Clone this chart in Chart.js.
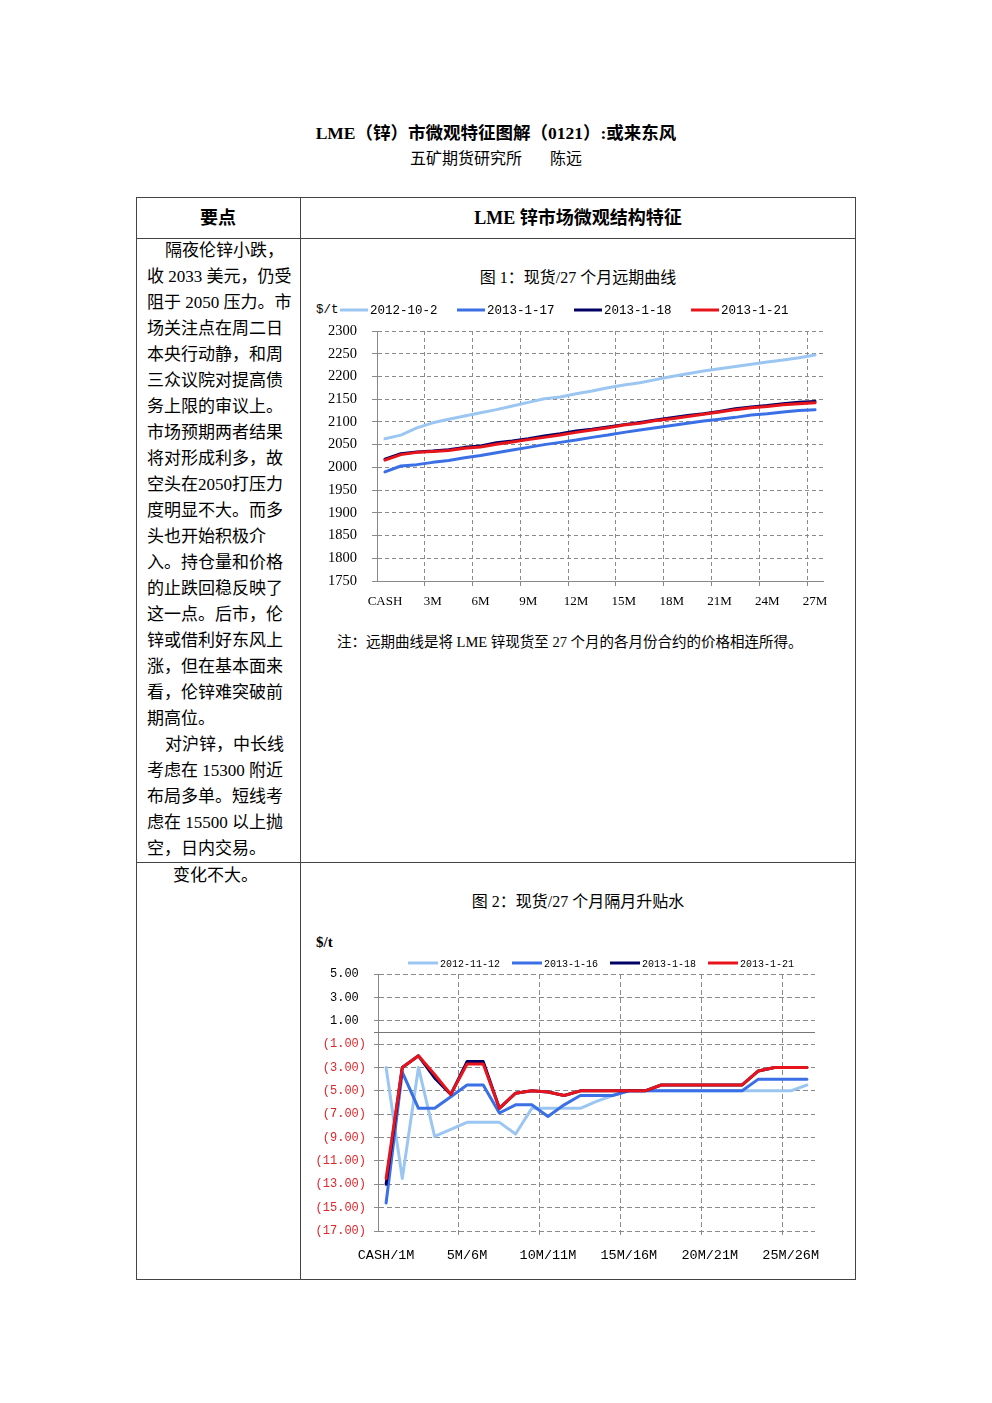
<!DOCTYPE html>
<html lang="zh-CN">
<head>
<meta charset="utf-8">
<title>LME（锌）市微观特征图解（0121）</title>
<script src="https://cdn.jsdelivr.net/npm/chart.js@4.4.1/dist/chart.umd.min.js"></script>
<style>
  html, body { margin: 0; padding: 0; background: #fff; }
  body { width: 992px; height: 1403px; position: relative; color: #000;
         font-family: "Liberation Serif", "Noto Sans CJK SC", serif; }
  .abs { position: absolute; }
  .center { text-align: center; white-space: nowrap; }
  .title { left: 0; width: 992px; top: 121px; line-height: 24px; font-size: 17.5px; font-weight: bold; }
  .sub { left: 0; width: 992px; top: 147px; line-height: 24px; font-size: 16px; }
  .box { left: 136px; top: 197px; width: 718px; height: 1081px; border: 1px solid #444; }
  .vline { left: 300px; top: 197px; width: 1px; height: 1083px; background: #444; }
  .hline { left: 136px; width: 720px; height: 1px; background: #444; }
  .head { top: 198px; line-height: 40px; font-size: 18px; font-weight: bold; }
  .points { left: 147px; top: 238px; font-size: 17px; line-height: 26px; white-space: nowrap; }
  .points .ind { padding-left: 18px; }
  .cap { left: 300px; width: 556px; font-size: 16px; line-height: 24px; }
  .note { left: 337px; top: 630px; font-size: 14.5px; line-height: 24px; white-space: nowrap; }
  .unit1 { left: 316px; top: 302px; font: 12.5px "Liberation Mono", monospace; line-height: 16px; }
  .unit2 { left: 316px; top: 932px; font-size: 15px; font-weight: bold; line-height: 20px; }
  canvas { position: absolute; }
</style>
</head>
<body>
<div class="abs center title">LME（锌）市微观特征图解（0121）:或来东风</div>
<div class="abs center sub">五矿期货研究所<span style="margin-left:28px">陈远</span></div>

<div class="abs box"></div>
<div class="abs vline"></div>
<div class="abs hline" style="top:238px"></div>
<div class="abs hline" style="top:862px"></div>

<div class="abs center head" style="left:136px;width:164px">要点</div>
<div class="abs center head" style="left:300px;width:556px">LME 锌市场微观结构特征</div>

<div class="abs points">
  <div class="ind">隔夜伦锌小跌，</div>
  <div>收 2033 美元，仍受</div>
  <div>阻于 2050 压力。市</div>
  <div>场关注点在周二日</div>
  <div>本央行动静，和周</div>
  <div>三众议院对提高债</div>
  <div>务上限的审议上。</div>
  <div>市场预期两者结果</div>
  <div>将对形成利多，故</div>
  <div>空头在2050打压力</div>
  <div>度明显不大。而多</div>
  <div>头也开始积极介</div>
  <div>入。持仓量和价格</div>
  <div>的止跌回稳反映了</div>
  <div>这一点。后市，伦</div>
  <div>锌或借利好东风上</div>
  <div>涨，但在基本面来</div>
  <div>看，伦锌难突破前</div>
  <div>期高位。</div>
  <div class="ind">对沪锌，中长线</div>
  <div>考虑在 15300 附近</div>
  <div>布局多单。短线考</div>
  <div>虑在 15500 以上抛</div>
  <div>空，日内交易。</div>
</div>
<div class="abs points" style="left:173px;top:863px">变化不大。</div>

<div class="abs center cap" style="top:266px">图 1：现货/27 个月远期曲线</div>
<div class="abs unit1">$/t</div>
<canvas id="fwdChart" width="540" height="330" style="left:305px;top:290px"></canvas>
<div class="abs note">注：远期曲线是将 LME 锌现货至 27 个月的各月份合约的价格相连所得。</div>

<div class="abs center cap" style="top:890px">图 2：现货/27 个月隔月升贴水</div>
<div class="abs unit2">$/t</div>
<canvas id="sprChart" width="530" height="330" style="left:305px;top:945px"></canvas>

<script>
// Figure 1: forward curve, USD/t
const fwdLabels = ["CASH", "1M", "2M", "3M", "4M", "5M", "6M", "7M", "8M", "9M",
  "10M", "11M", "12M", "13M", "14M", "15M", "16M", "17M", "18M", "19M",
  "20M", "21M", "22M", "23M", "24M", "25M", "26M", "27M"];
const fwd_20121002 = [2063, 2071, 2087, 2098, 2106, 2113, 2120, 2127, 2135, 2143,
  2151, 2155, 2162, 2168, 2175, 2181, 2186, 2193, 2200, 2206,
  2212, 2217, 2222, 2227, 2232, 2236, 2241, 2247];
const fwd_20130117 = [1990, 2003, 2006, 2011, 2015, 2021, 2026, 2032, 2038, 2044,
  2050, 2055, 2060, 2066, 2071, 2077, 2082, 2087, 2092, 2097,
  2102, 2106, 2110, 2115, 2118, 2122, 2125, 2127];
const fwd_20130118 = [2018, 2030, 2034, 2036, 2039, 2044, 2047, 2054, 2058, 2063,
  2069, 2074, 2080, 2084, 2089, 2094, 2099, 2104, 2109, 2114,
  2118, 2123, 2129, 2133, 2136, 2140, 2143, 2145];
const fwd_20130121 = [2016, 2028, 2033, 2035, 2037, 2042, 2045, 2051, 2056, 2061,
  2066, 2071, 2077, 2082, 2087, 2093, 2097, 2103, 2107, 2112,
  2117, 2122, 2127, 2131, 2134, 2138, 2140, 2142];
const fwdAxis = [1750, 2300, 50];

// Figure 2: month-to-month spreads, USD/t
const sprLabels = ["CASH/1M", "1M/2M", "2M/3M", "3M/4M", "4M/5M", "5M/6M", "6M/7M",
  "7M/8M", "8M/9M", "9M/10M", "10M/11M", "11M/12M", "12M/13M", "13M/14M",
  "14M/15M", "15M/16M", "16M/17M", "17M/18M", "18M/19M", "19M/20M",
  "20M/21M", "21M/22M", "22M/23M", "23M/24M", "24M/25M", "25M/26M", "26M/27M"];
const spr_20121112 = [-3.0, -12.5, -3.0, -8.9, -8.3, -7.7, -7.7, -7.7, -8.7, -6.5,
  -6.5, -6.5, -6.5, -5.9, -5.4, -5.0, -5.0, -5.0, -5.0, -5.0,
  -5.0, -5.0, -5.0, -5.0, -5.0, -5.0, -4.5];
const spr_20130116 = [-14.6, -3.4, -6.5, -6.5, -5.5, -4.5, -4.5, -6.9, -6.2, -6.2,
  -7.2, -6.2, -5.4, -5.4, -5.4, -5.0, -5.0, -5.0, -5.0, -5.0,
  -5.0, -5.0, -5.0, -4.0, -4.0, -4.0, -4.0];
const spr_20130118 = [-13.0, -3.0, -2.0, -3.9, -5.3, -2.5, -2.5, -6.5, -5.2, -5.0,
  -5.1, -5.4, -5.0, -5.0, -5.0, -5.0, -5.0, -4.5, -4.5, -4.5,
  -4.5, -4.5, -4.5, -3.3, -3.0, -3.0, -3.0];
const spr_20130121 = [-12.5, -3.0, -2.0, -3.6, -5.3, -2.7, -2.7, -6.5, -5.2, -5.0,
  -5.1, -5.4, -5.0, -5.0, -5.0, -5.0, -5.0, -4.5, -4.5, -4.5,
  -4.5, -4.5, -4.5, -3.3, -3.0, -3.0, -3.0];
const sprAxis = [-17, 5, 2];

const C_LIGHT = "#9cc6f2", C_MID = "#3a6fe6", C_DARK = "#000066", C_RED = "#e8141c";
const GRID = "#8a8a8a";

Chart.defaults.animation = false;
Chart.defaults.devicePixelRatio = 1;

// legend drawn as line sample + label, laid out left to right
const lineLegend = {
  id: "lineLegend",
  afterDraw(chart, args, opts) {
    const ctx = chart.ctx;
    ctx.save();
    ctx.font = opts.font;
    ctx.textBaseline = "middle";
    let x = opts.x;
    chart.data.datasets.forEach(ds => {
      ctx.strokeStyle = ds.borderColor;
      ctx.lineWidth = 3;
      ctx.beginPath();
      ctx.moveTo(x, opts.y);
      ctx.lineTo(x + opts.lineLen, opts.y);
      ctx.stroke();
      x += opts.lineLen + 2;
      ctx.fillStyle = "#000";
      ctx.fillText(ds.label, x, opts.y + 1);
      x += ctx.measureText(ds.label).width + opts.gap;
    });
    ctx.restore();
  }
};

// solid horizontal axis at zero
const zeroLine = {
  id: "zeroLine",
  beforeDatasetsDraw(chart) {
    const ctx = chart.ctx;
    const y = Math.round(chart.scales.y.getPixelForValue(0)) + 0.5;
    const a = chart.chartArea;
    ctx.save();
    ctx.strokeStyle = "#777";
    ctx.lineWidth = 1;
    ctx.beginPath();
    ctx.moveTo(a.left - 4, y);
    ctx.lineTo(a.right, y);
    ctx.stroke();
    ctx.restore();
  }
};

function series(label, data, color, order) {
  return {
    label, data, order,
    borderColor: color,
    backgroundColor: color,
    borderWidth: 3,
    pointRadius: 0,
    tension: 0,
    borderJoinStyle: "round",
    borderCapStyle: "round"
  };
}

new Chart(document.getElementById("fwdChart"), {
  type: "line",
  data: {
    labels: fwdLabels,
    datasets: [
      series("2012-10-2", fwd_20121002, C_LIGHT, 3),
      series("2013-1-17", fwd_20130117, C_MID, 2),
      series("2013-1-18", fwd_20130118, C_DARK, 1),
      series("2013-1-21", fwd_20130121, C_RED, 0)
    ]
  },
  plugins: [lineLegend],
  options: {
    responsive: false,
    layout: { padding: { top: 41, right: 22, bottom: 0, left: 0 } },
    plugins: {
      legend: { display: false },
      tooltip: { enabled: false },
      lineLegend: { x: 35, y: 20, lineLen: 28, gap: 19.5, font: "12.5px 'Liberation Mono', monospace" }
    },
    scales: {
      x: {
        offset: true,
        grid: {
          offset: true,
          tickLength: 5,
          color: c => (c.index > 0 && c.index % 3 === 0) ? GRID : "rgba(0,0,0,0)"
        },
        border: { display: true, color: "#888", dash: [4, 3] },
        ticks: {
          autoSkip: false, maxRotation: 0, minRotation: 0, padding: 8, color: "#000",
          font: { family: "'Liberation Serif', serif", size: 13 },
          callback: (v, i) => i % 3 === 0 ? fwdLabels[i] : ""
        },
        afterFit: s => { s.height = 39; }
      },
      y: {
        min: fwdAxis[0], max: fwdAxis[1],
        grid: { color: GRID, tickLength: 5 },
        border: { display: true, color: "#888", dash: [4, 3] },
        ticks: {
          stepSize: fwdAxis[2], padding: 15, color: "#000",
          font: { family: "'Liberation Serif', serif", size: 14.5 },
          callback: v => String(v)
        },
        afterFit: s => { s.width = 72; }
      }
    }
  }
});

new Chart(document.getElementById("sprChart"), {
  type: "line",
  data: {
    labels: sprLabels,
    datasets: [
      series("2012-11-12", spr_20121112, C_LIGHT, 3),
      series("2013-1-16", spr_20130116, C_MID, 2),
      series("2013-1-18", spr_20130118, C_DARK, 1),
      series("2013-1-21", spr_20130121, C_RED, 0)
    ]
  },
  plugins: [lineLegend, zeroLine],
  options: {
    responsive: false,
    layout: { padding: { top: 29, right: 20, bottom: 0, left: 0 } },
    plugins: {
      legend: { display: false },
      tooltip: { enabled: false },
      lineLegend: { x: 103, y: 18, lineLen: 30, gap: 12, font: "10px 'Liberation Mono', monospace" }
    },
    scales: {
      x: {
        offset: true,
        grid: {
          offset: true,
          tickLength: 4,
          color: c => (c.index > 0 && c.index % 5 === 0) ? GRID : "rgba(0,0,0,0)"
        },
        border: { display: false, dash: [5, 3] },
        ticks: {
          autoSkip: false, maxRotation: 0, minRotation: 0, padding: 12, color: "#000",
          font: { family: "'Liberation Mono', monospace", size: 13.5 },
          callback: (v, i) => i % 5 === 0 ? sprLabels[i] : ""
        },
        afterFit: s => { s.height = 44; }
      },
      y: {
        min: sprAxis[0], max: sprAxis[1],
        grid: { color: GRID, tickLength: 4 },
        border: { display: true, color: "#888", dash: [5, 3] },
        ticks: {
          stepSize: sprAxis[2], padding: 8,
          color: c => c.tick.value < 0 ? "#e0262b" : "#000",
          font: { family: "'Liberation Mono', monospace", size: 12 },
          callback: v => v < 0 ? "(" + Math.abs(v).toFixed(2) + ")" : v.toFixed(2) + " "
        },
        afterFit: s => { s.width = 73; }
      }
    }
  }
});
</script>
</body>
</html>
